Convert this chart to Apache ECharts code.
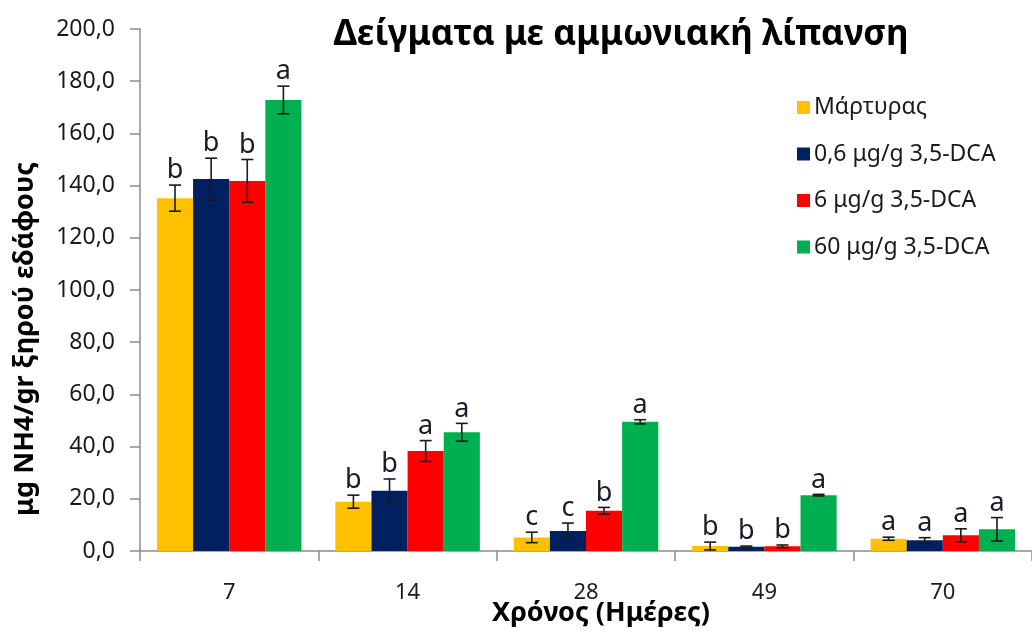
<!DOCTYPE html>
<html><head><meta charset="utf-8">
<script src="https://cdn.jsdelivr.net/npm/echarts@6/dist/echarts.min.js"></script>
<style>html,body{margin:0;padding:0;background:#fff}#c{width:1032px;height:634px}</style>
</head><body><div id="c"></div>
<script>
const days = ['7', '14', '28', '49', '70'];
const seriesNames = ['Μάρτυρας', '0,6 μg/g 3,5-DCA', '6 μg/g 3,5-DCA', '60 μg/g 3,5-DCA'];
const control = [135.2, 18.9, 5.2, 1.9, 4.7];
const dca06 = [142.5, 23.1, 7.7, 1.6, 4.1];
const dca6 = [141.8, 38.3, 15.4, 1.8, 6.0];
const dca60 = [172.8, 45.5, 49.5, 21.4, 8.3];
const errControl = [5.0, 2.5, 2.0, 1.5, 0.6];
const errDca06 = [8.0, 4.5, 3.0, 0.3, 1.0];
const errDca6 = [8.2, 4.0, 1.3, 0.5, 2.5];
const errDca60 = [5.3, 3.4, 0.8, 0.3, 4.5];
const letControl = ['b', 'b', 'c', 'b', 'a'];
const letDca06 = ['b', 'b', 'c', 'b', 'a'];
const letDca6 = ['b', 'a', 'b', 'b', 'a'];
const letDca60 = ['a', 'a', 'a', 'a', 'a'];
const yTicks = { min: 0, max: 200, interval: 20 };

const FONT = '"Noto Sans", "DejaVu Sans", sans-serif';
const colors = ['#FFC000', '#002060', '#FF0000', '#00B050'];
const values = [control, dca06, dca6, dca60];
const errs = [errControl, errDca06, errDca6, errDca60];
const lets = [letControl, letDca06, letDca6, letDca60];
const CAT_GAP = 0.19;

const chart = echarts.init(document.getElementById('c'), null, { renderer: 'canvas' });

const barSeries = seriesNames.map((n, i) => ({
  name: n, type: 'bar', data: values[i], barGap: '0%', barCategoryGap: (CAT_GAP * 100) + '%',
  itemStyle: { color: colors[i] }, z: 2
}));

const errSeries = values.map((vals, si) => ({
  type: 'custom', name: 'err' + si, z: 5, silent: true,
  data: vals.map((v, k) => [k, v, errs[si][k], lets[si][k]]),
  renderItem: function (params, api) {
    const k = api.value(0), v = api.value(1), e = api.value(2), letter = api.value(3);
    const catW = api.size([1, 0])[0];
    const bw = catW * (1 - CAT_GAP) / 4;
    const off = (si - 1.5) * bw;
    const top = api.coord([k, v + e]);
    const bot = api.coord([k, Math.max(v - e, 0)]);
    const x = top[0] + off;
    const cap = 6;
    const st = { stroke: '#1a1a1a', lineWidth: 1.6 };
    return {
      type: 'group', children: [
        { type: 'line', shape: { x1: x, y1: top[1], x2: x, y2: bot[1] }, style: st },
        { type: 'line', shape: { x1: x - cap, y1: top[1], x2: x + cap, y2: top[1] }, style: st },
        { type: 'line', shape: { x1: x - cap, y1: bot[1], x2: x + cap, y2: bot[1] }, style: st },
        { type: 'text', x: x, y: top[1] - 1, style: { text: letter, fill: '#1a1a2a', font: '27px ' + FONT, textAlign: 'center', textVerticalAlign: 'bottom' } }
      ]
    };
  }
}));

chart.setOption({
  animation: false,
  backgroundColor: '#fff',
  textStyle: { fontFamily: FONT },
  graphic: [
    { type: 'text', x: 621, y: 35, style: { text: 'Δείγματα με αμμωνιακή λίπανση', font: 'bold 35px ' + FONT, fill: '#000', textAlign: 'center', textVerticalAlign: 'middle' } },
    { type: 'text', x: 601, y: 613, style: { text: 'Χρόνος (Ημέρες)', font: 'bold 27px ' + FONT, fill: '#000', textAlign: 'center', textVerticalAlign: 'middle' } },
    { type: 'text', x: 25, y: 339, rotation: Math.PI / 2, style: { text: 'μg NH4/gr ξηρού εδάφους', font: 'bold 27px ' + FONT, fill: '#000', textAlign: 'center', textVerticalAlign: 'middle' } }
  ],
  legend: {
    data: seriesNames, orient: 'vertical', left: 792, top: 91,
    icon: 'rect', itemWidth: 13, itemHeight: 13, itemGap: 23.5,
    textStyle: { fontSize: 23, color: '#1a1a1a', fontFamily: FONT, padding: [0, 0, 0, -1] }
  },
  grid: { left: 140, top: 29, bottom: 83, width: 900, containLabel: false },
  xAxis: {
    type: 'category', data: days, boundaryGap: true,
    axisLine: { lineStyle: { color: '#8c8c8c', width: 1.5 } },
    axisTick: { show: true, length: 10, lineStyle: { color: '#8c8c8c', width: 1.5 }, alignWithLabel: false },
    axisLabel: { fontSize: 22, color: '#1a1a1a', margin: 31, fontFamily: FONT },
    splitLine: { show: false }
  },
  yAxis: {
    type: 'value', min: yTicks.min, max: yTicks.max, interval: yTicks.interval,
    axisLine: { show: true, lineStyle: { color: '#8c8c8c', width: 1.5 } },
    axisTick: { show: true, length: 10, inside: false, lineStyle: { color: '#8c8c8c', width: 1.5 } },
    axisLabel: { fontSize: 23, color: '#1a1a1a', margin: 25, fontFamily: FONT, formatter: v => v.toFixed(1).replace('.', ',') },
    splitLine: { show: false }
  },
  series: barSeries.concat(errSeries)
});
</script></body></html>
